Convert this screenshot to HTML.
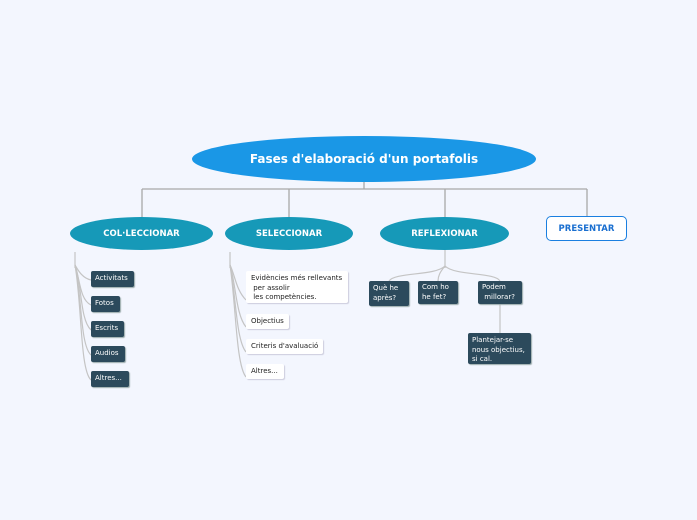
<!DOCTYPE html>
<html><head><meta charset="utf-8"><style>
body{margin:0;width:697px;height:520px;background:#f3f6fe;position:relative;overflow:hidden;font-family:"DejaVu Sans","Liberation Sans",sans-serif}
.a{position:absolute;box-sizing:border-box}
.el{border-radius:50%;color:#fff;font-weight:bold;display:flex;align-items:center;justify-content:center}
.d{background:#2c4a5c;color:#fff;font-size:7px;border-radius:2px;padding:3px 4px;line-height:9.5px;box-shadow:1px 1px 1px #9aa;white-space:nowrap}
.w{background:#fff;color:#222;font-size:7px;border-radius:2px;padding:3px 5px;line-height:9.5px;box-shadow:1px 1px 1px #ccd;white-space:nowrap}
</style></head><body>
<svg class="a" style="left:0;top:0" width="697" height="520">
<g stroke="#a8a8a8" stroke-width="1.3" fill="none">
<path d="M364 182V189M142 189H587M142 189V217M289 189V217M445 189V217M587 189V216"/>
</g>
<g stroke="#c4c4c4" stroke-width="1.2" fill="none">
<path d="M75 252V268"/>
<path d="M75 265C78 270 82 278 91 280"/>
<path d="M75 265C80 280 80 300 91 305"/>
<path d="M75 265C82 285 80 320 91 330"/>
<path d="M75 265C82 295 80 345 91 355"/>
<path d="M75 265C82 305 80 370 91 380"/>
<path d="M230 252V268"/>
<path d="M230 265C235 275 236 290 246 300"/>
<path d="M230 265C236 285 236 315 246 327"/>
<path d="M230 265C236 295 236 340 246 352"/>
<path d="M230 265C236 305 236 365 246 377"/>
<path d="M445 250V268"/>
<path d="M445 266C435 276 395 272 389 281"/>
<path d="M445 266C440 272 438 276 438 281"/>
<path d="M445 266C455 276 495 272 500 281"/>
<path d="M500 304V333"/>
</g>
</svg>
<div class="a el" style="left:192px;top:136px;width:344px;height:46px;background:#1a97e6;font-size:12px">Fases d'elaboració d'un portafolis</div>
<div class="a el" style="left:70px;top:217px;width:143px;height:33px;background:#1699b8;font-size:8.5px">COL·LECCIONAR</div>
<div class="a el" style="left:225px;top:217px;width:128px;height:33px;background:#1699b8;font-size:8.5px">SELECCIONAR</div>
<div class="a el" style="left:380px;top:217px;width:129px;height:33px;background:#1699b8;font-size:8.5px">REFLEXIONAR</div>
<div class="a" style="left:546px;top:216px;width:81px;height:25px;background:#fff;border:1.5px solid #1a7fe0;border-radius:5px;color:#1a6fd0;font-weight:bold;font-size:8.5px;display:flex;align-items:center;justify-content:center">PRESENTAR</div>
<div class="a d" style="left:91px;top:271px;width:43px;height:16px">Activitats</div>
<div class="a d" style="left:91px;top:296px;width:29px;height:16px">Fotos</div>
<div class="a d" style="left:91px;top:321px;width:33px;height:16px">Escrits</div>
<div class="a d" style="left:91px;top:346px;width:34px;height:16px">Audios</div>
<div class="a d" style="left:91px;top:371px;width:38px;height:16px">Altres...</div>
<div class="a w" style="left:246px;top:271px;width:102px;height:32px">Evidències més rellevants<br>&nbsp;per assolir<br>&nbsp;les competències.</div>
<div class="a w" style="left:246px;top:314px;width:43px;height:15px">Objectius</div>
<div class="a w" style="left:246px;top:339px;width:77px;height:15px">Criteris d'avaluació</div>
<div class="a w" style="left:246px;top:364px;width:38px;height:15px">Altres...</div>
<div class="a d" style="left:369px;top:281px;width:40px;height:25px">Què he<br>après?</div>
<div class="a d" style="left:418px;top:281px;width:40px;height:23px;padding-top:2px">Com ho<br>he fet?</div>
<div class="a d" style="left:478px;top:281px;width:44px;height:23px;padding-top:2px">Podem<br>&nbsp;millorar?</div>
<div class="a d" style="left:468px;top:333px;width:63px;height:31px">Plantejar-se<br>nous objectius,<br>si cal.</div>
</body></html>
